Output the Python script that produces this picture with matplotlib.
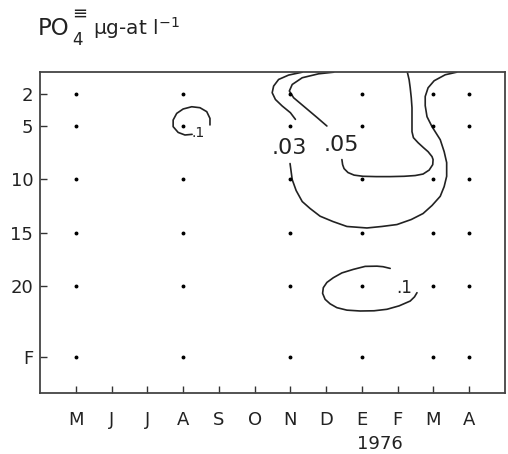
import numpy as np
import matplotlib.pyplot as plt

plt.rcParams['font.family'] = 'DejaVu Sans'
plt.rcParams['mathtext.default'] = 'regular'

# ejes: meses (mayo 1975 - abril 1976) y profundidad (m)
months = ['M', 'J', 'J', 'A', 'S', 'O', 'N', 'D', 'E', 'F', 'M', 'A']
depth_ticks = [2, 5, 10, 15, 20, 26.6]
depth_labels = ['2', '5', '10', '15', '20', 'F']

# estaciones de muestreo
sample_months = [0, 3, 6, 8, 10, 11]
sample_depths = [2, 5, 10, 15, 20, 26.6]

# isolineas (mes, profundidad)
iso03_a_m = [6.33, 5.95, 5.67, 5.53, 5.49, 5.58, 5.77, 6.00, 6.14]
iso03_a_d = [0.0, 0.27, 0.68, 1.30, 1.92, 2.55, 3.16, 3.79, 4.41]
iso03_b_m = [5.99, 6.02, 6.05, 6.16, 6.33, 6.55, 6.83, 7.19, 7.58, 8.14,
             8.56, 8.98, 9.38, 9.71, 9.96, 10.19, 10.30, 10.37, 10.37, 10.30,
             10.19, 9.96, 9.82, 9.77, 9.77, 9.85, 10.02, 10.33, 10.65]
iso03_b_d = [8.54, 9.29, 10.04, 11.06, 12.09, 12.74, 13.46, 13.96, 14.42, 14.56,
             14.42, 14.24, 13.77, 13.21, 12.46, 11.60, 10.69, 9.73, 8.45, 7.43,
             6.31, 5.09, 4.16, 3.13, 2.27, 1.46, 0.80, 0.24, 0.0]

iso05_a_m = [7.21, 6.79, 6.33, 6.05, 5.97, 6.09, 6.42, 6.75, 7.02]
iso05_a_d = [0.0, 0.15, 0.52, 1.15, 1.76, 2.39, 3.32, 4.25, 5.03]
iso05_b_m = [7.44, 7.46, 7.50, 7.61, 7.78, 8.03, 8.40, 8.79, 9.18, 9.49,
             9.71, 9.88, 9.98, 9.99, 9.96, 9.85, 9.72, 9.57, 9.44, 9.40,
             9.40, 9.40, 9.38, 9.35, 9.32, 9.27]
iso05_b_d = [8.17, 8.64, 9.01, 9.38, 9.62, 9.73, 9.76, 9.76, 9.73, 9.66,
             9.52, 9.15, 8.64, 8.17, 7.89, 7.43, 7.05, 6.59, 6.12, 5.56,
             4.63, 3.32, 2.39, 1.46, 0.71, 0.0]

iso1_a_m = [3.25, 3.05, 2.86, 2.72, 2.72, 2.82, 3.00, 3.24, 3.47, 3.66, 3.75, 3.75]
iso1_a_d = [5.81, 5.87, 5.63, 5.09, 4.47, 3.85, 3.44, 3.23, 3.32, 3.69, 4.32, 4.93]
iso1_b_m = [8.79, 8.59, 8.42, 8.09, 7.76, 7.44, 7.20, 7.02, 6.92, 6.90, 6.97,
            7.11, 7.30, 7.58, 7.95, 8.34, 8.70, 9.04, 9.35, 9.47, 9.54]
iso1_b_d = [18.34, 18.18, 18.13, 18.15, 18.43, 18.76, 19.21, 19.65, 20.14, 20.67,
            21.23, 21.65, 22.01, 22.24, 22.32, 22.30, 22.16, 21.84, 21.39,
            21.00, 20.61]

fig = plt.figure(figsize=(5.08, 4.54), dpi=100)
ax = fig.add_axes([0.079, 0.134, 0.915, 0.707])

col = '#222222'
kw = dict(color=col, linewidth=1.2, solid_capstyle='round', solid_joinstyle='round')
for xm, yd in [(iso03_a_m, iso03_a_d), (iso03_b_m, iso03_b_d),
               (iso05_a_m, iso05_a_d), (iso05_b_m, iso05_b_d),
               (iso1_a_m, iso1_a_d), (iso1_b_m, iso1_b_d)]:
    ax.plot(xm, yd, **kw)

# puntos de muestreo
mm, dd = np.meshgrid(sample_months, sample_depths)
ax.plot(mm.ravel(), dd.ravel(), 'o', color='black', markersize=1.8)

# etiquetas de isolineas
ax.text(5.96, 7.05, '.03', fontsize=16, ha='center', va='center', color=col)
ax.text(7.42, 6.77, '.05', fontsize=16, ha='center', va='center', color=col)
ax.text(3.43, 5.7, '.1', fontsize=10, ha='center', va='center', color=col)
ax.text(9.18, 20.2, '.1', fontsize=12, ha='center', va='center', color=col)

ax.set_xlim(-1, 12)
ax.set_ylim(30, 0)
ax.set_xticks(range(len(months)))
ax.set_xticklabels(months)
ax.set_yticks(depth_ticks)
ax.set_yticklabels(depth_labels)
ax.tick_params(axis='both', direction='in', length=5, width=1, colors='#333333',
               labelsize=13, labelcolor='#222222')
ax.tick_params(axis='x', pad=13)
ax.tick_params(axis='y', pad=5)
for s in ax.spines.values():
    s.set_linewidth(1.3)
    s.set_color('#444444')

ax.text(8.5, -0.13, '1976', transform=ax.get_xaxis_transform(),
        fontsize=13, ha='center', va='top', color='#222222')

# titulo
fig.text(0.0748, 0.923, 'PO', fontsize=16.5, va='baseline', color='#222222')
fig.text(0.1417, 0.901, '4', fontsize=12, va='baseline', color='#222222')
fig.text(0.1417, 0.958, '\u2261', fontsize=13, va='baseline', color='#222222')
fig.text(0.183, 0.923, r'$\mu$g-at l$^{-1}$', fontsize=14.5, va='baseline',
         color='#222222')

fig.savefig('out.png', dpi=100)
